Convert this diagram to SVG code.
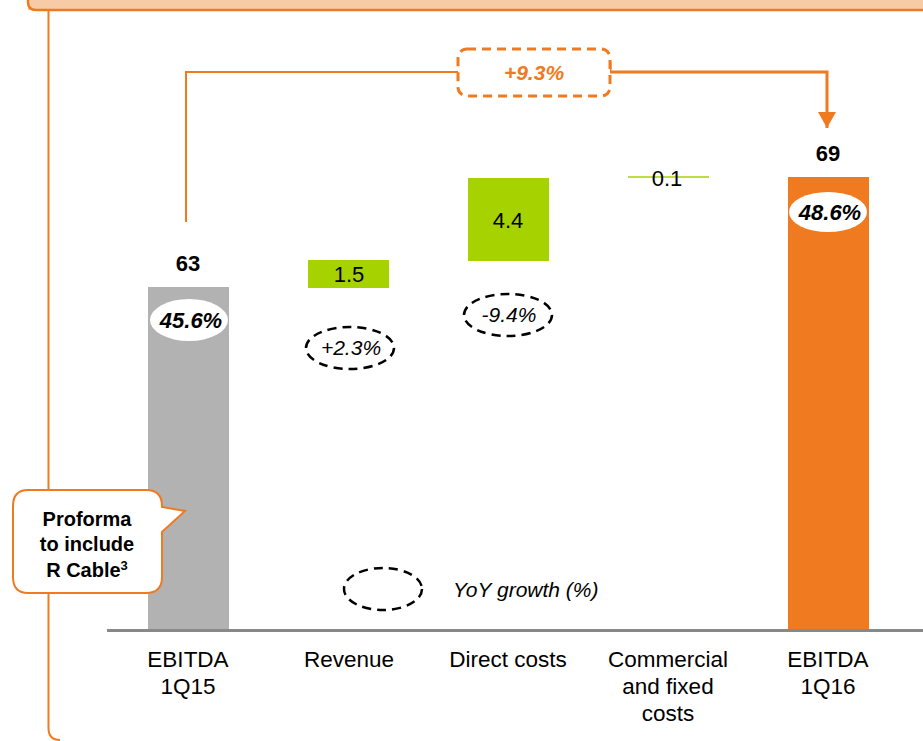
<svg xmlns="http://www.w3.org/2000/svg" width="923" height="741" viewBox="0 0 923 741">
<style>
text{font-family:"Liberation Sans",Arial,sans-serif;fill:#000}
.val{font-size:22px}
.b{font-weight:bold}
.pct{font-size:22px;font-weight:bold;font-style:italic}
.yoy{font-size:21px;font-style:italic}
.cat{font-size:22.5px;text-anchor:middle}
.dash{fill:none;stroke:#000;stroke-width:2.5;stroke-dasharray:9 6}
.ov{fill:#fff}
.green{fill:#A6D300}
</style>
<defs>
<marker id="arr" markerWidth="16" markerHeight="18" refX="16" refY="9" orient="auto" markerUnits="userSpaceOnUse" viewBox="0 0 16 18">
<path d="M0,0 L16,9 L0,18 Z" fill="#F07A20"/>
</marker>
</defs>
<g id="frame">
<rect x="28" y="-20" width="900" height="30" fill="#F8CBA7"/>
<path d="M28,-20 L28,2 Q28,10 36,10 L923,10" fill="none" stroke="#F07A20" stroke-width="2.5"/>
<path d="M48.5,10 L48.5,728 Q48.5,740 60,740" fill="none" stroke="#F07A20" stroke-width="2"/>
</g>
<g id="connectors">
<path d="M186,222 L186,72 L458,72" fill="none" stroke="#F07A20" stroke-width="2"/>
<path d="M610,62 L610,72 L827,72 L827,128" fill="none" stroke="#F07A20" stroke-width="3" marker-end="url(#arr)"/>
</g>
<g id="growth-box">
<rect x="458" y="49" width="152" height="47" rx="9" fill="#fff" stroke="#F07A20" stroke-width="3" stroke-dasharray="9 6"/>
<text x="534" y="80" text-anchor="middle" style="font-size:21px;font-weight:bold;font-style:italic;fill:#F07A20">+9.3%</text>
</g>
<g id="axis">
<line x1="107" y1="630.5" x2="923" y2="630.5" stroke="#888" stroke-width="3"/>
</g>
<g id="ebitda-1q15">
<rect x="148" y="287" width="81" height="342" fill="#B2B2B2"/>
<text x="188" y="271" text-anchor="middle" class="val b">63</text>
<ellipse cx="189" cy="320" rx="39" ry="21" class="ov"/>
<text x="191" y="328" text-anchor="middle" class="pct">45.6%</text>
<text x="188" y="667" class="cat">EBITDA</text>
<text x="188" y="694" class="cat">1Q15</text>
</g>
<g id="revenue">
<rect x="308" y="260" width="81" height="28" class="green"/>
<text x="349" y="282" text-anchor="middle" class="val">1.5</text>
<ellipse cx="350" cy="348" rx="44" ry="21" class="dash"/>
<text x="351" y="355" text-anchor="middle" class="yoy">+2.3%</text>
<text x="349" y="667" class="cat">Revenue</text>
</g>
<g id="direct-costs">
<rect x="468" y="178" width="81" height="83" class="green"/>
<text x="508" y="228" text-anchor="middle" class="val">4.4</text>
<ellipse cx="508" cy="315" rx="44" ry="21" class="dash"/>
<text x="509" y="322" text-anchor="middle" class="yoy">-9.4%</text>
<text x="508" y="667" class="cat">Direct costs</text>
</g>
<g id="commercial">
<line x1="628" y1="177" x2="709" y2="177" stroke="#A6D300" stroke-width="1.5"/>
<text x="667" y="186" text-anchor="middle" class="val">0.1</text>
<text x="668" y="667" class="cat">Commercial</text>
<text x="668" y="694" class="cat">and fixed</text>
<text x="668" y="721" class="cat">costs</text>
</g>
<g id="ebitda-1q16">
<rect x="788" y="177" width="81" height="452" fill="#F07A20"/>
<text x="828" y="161" text-anchor="middle" class="val b">69</text>
<ellipse cx="828" cy="212" rx="39" ry="20" class="ov"/>
<text x="830" y="220" text-anchor="middle" class="pct">48.6%</text>
<text x="828" y="667" class="cat">EBITDA</text>
<text x="828" y="694" class="cat">1Q16</text>
</g>
<g id="callout">
<path d="M28,490 L146,490 Q162,490 162,506 L162,507 L185,511 L162,532 L162,577 Q162,593 146,593 L28,593 Q13,593 13,577 L13,506 Q13,490 28,490 Z" fill="#fff" stroke="#F07A20" stroke-width="2"/>
<text x="87" y="526" text-anchor="middle" style="font-size:20px;font-weight:bold">Proforma</text>
<text x="87" y="551" text-anchor="middle" style="font-size:20px;font-weight:bold">to include</text>
<text x="87" y="577" text-anchor="middle" style="font-size:20px;font-weight:bold">R Cable<tspan dy="-7" style="font-size:13px">3</tspan></text>
</g>
<g id="legend">
<ellipse cx="383" cy="589" rx="39" ry="21" class="dash"/>
<text x="453" y="597" class="yoy">YoY growth (%)</text>
</g>
</svg>
